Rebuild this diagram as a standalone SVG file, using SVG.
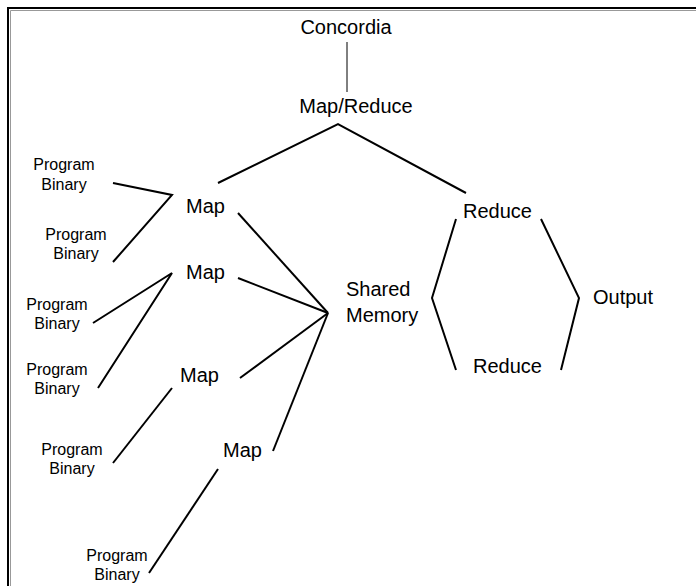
<svg xmlns="http://www.w3.org/2000/svg" width="696" height="586" viewBox="0 0 696 586">
<style>
text{font-family:"Liberation Sans",Arial,sans-serif;fill:#000}
.big{font-size:20px}
.sm{font-size:16px}
.c{stroke:#000;stroke-width:2;fill:none;stroke-linecap:butt}
.thin{stroke:#000;stroke-width:1;fill:none}
</style>
<rect width="696" height="586" fill="#fff"/>
<path d="M10.5,586 V10.5 H696" fill="none" stroke="#999" stroke-width="1"/>
<path d="M8,586 V8 H696" fill="none" stroke="#000" stroke-width="2"/>
<g id="connectors">
<line class="thin" x1="347" y1="42" x2="347" y2="92"/>
<polyline class="c" points="218,183 338,124 466,193"/>
<polyline class="c" points="113,183 172,195 113,262"/>
<polyline class="c" points="93,323 172,273 98,388"/>
<line class="c" x1="172" y1="388" x2="113" y2="463"/>
<line class="c" x1="218" y1="469" x2="149" y2="573"/>
<line class="c" x1="238" y1="213" x2="328" y2="313"/>
<line class="c" x1="238" y1="278" x2="328" y2="313"/>
<line class="c" x1="240" y1="378" x2="328" y2="313"/>
<line class="c" x1="273" y1="451" x2="328" y2="313"/>
<polyline class="c" points="456,219 432,298 456,370"/>
<polyline class="c" points="541,219 579,298 561,370"/>
</g>
<g id="concordia"><text class="big" x="346" y="34" text-anchor="middle">Concordia</text></g>
<g id="mapreduce"><text class="big" x="356" y="113" text-anchor="middle">Map/Reduce</text></g>
<g id="pb1"><text class="sm" text-anchor="middle"><tspan x="64" y="170">Program</tspan><tspan x="64" y="190">Binary</tspan></text></g>
<g id="pb2"><text class="sm" text-anchor="middle"><tspan x="76" y="240">Program</tspan><tspan x="76" y="259">Binary</tspan></text></g>
<g id="pb3"><text class="sm" text-anchor="middle"><tspan x="57" y="310">Program</tspan><tspan x="57" y="329">Binary</tspan></text></g>
<g id="pb4"><text class="sm" text-anchor="middle"><tspan x="57" y="375">Program</tspan><tspan x="57" y="394">Binary</tspan></text></g>
<g id="pb5"><text class="sm" text-anchor="middle"><tspan x="72" y="455">Program</tspan><tspan x="72" y="474">Binary</tspan></text></g>
<g id="pb6"><text class="sm" text-anchor="middle"><tspan x="117" y="561">Program</tspan><tspan x="117" y="580">Binary</tspan></text></g>
<g id="map1"><text class="big" x="186" y="213">Map</text></g>
<g id="map2"><text class="big" x="186" y="279">Map</text></g>
<g id="map3"><text class="big" x="180" y="382">Map</text></g>
<g id="map4"><text class="big" x="223" y="457">Map</text></g>
<g id="shared"><text class="big"><tspan x="346" y="296">Shared</tspan><tspan x="346" y="322">Memory</tspan></text></g>
<g id="reduce1"><text class="big" x="463" y="218">Reduce</text></g>
<g id="reduce2"><text class="big" x="473" y="373">Reduce</text></g>
<g id="output"><text class="big" x="593" y="304">Output</text></g>
</svg>
